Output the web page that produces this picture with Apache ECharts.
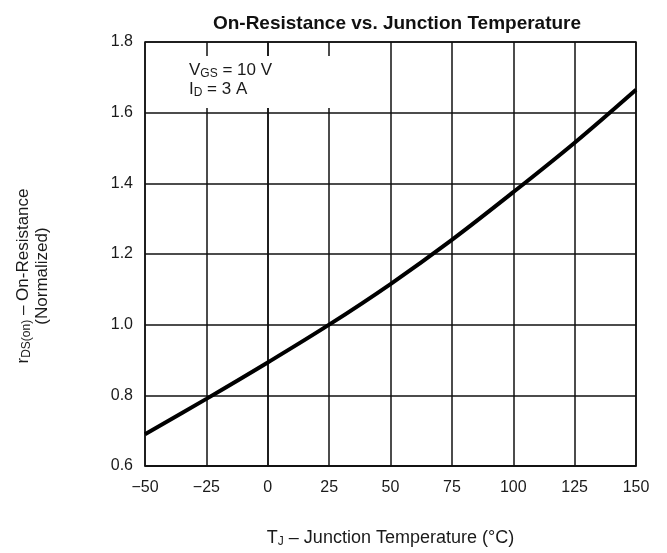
<!DOCTYPE html>
<html>
<head>
<meta charset="utf-8">
<script src="https://cdn.jsdelivr.net/npm/echarts@6/dist/echarts.min.js"></script>
<style>
  html, body { margin: 0; padding: 0; background: #fff; }
  #chart { width: 667px; height: 553px; }
</style>
</head>
<body>
<div id="chart"></div>
<script>
// junction temperature (°C)
const tempC = [-50, -25, 0, 25, 50, 75, 100, 125, 150];
// normalized on-resistance
const rdsNorm = [0.69, 0.79, 0.893, 1.0, 1.115, 1.24, 1.375, 1.515, 1.665];

const chart = echarts.init(document.getElementById('chart'));
const font = 'Liberation Sans, Arial, sans-serif';

chart.setOption({
  animation: false,
  backgroundColor: '#fff',
  title: {
    text: 'On-Resistance vs. Junction Temperature',
    left: 392, top: 9, textAlign: 'center',
    textStyle: { fontFamily: font, fontSize: 19, fontWeight: 'bold', color: '#111' }
  },
  grid: {
    left: 145, right: 31, top: 42, bottom: 85,
    show: true, borderColor: '#111', borderWidth: 1.5
  },
  xAxis: {
    type: 'value', min: -50, max: 150, interval: 25,
    axisLine: { show: true, lineStyle: { color: '#111', width: 1.5 } },
    axisTick: { show: false },
    splitLine: { show: true, lineStyle: { color: '#111', width: 1.5 } },
    axisLabel: {
      margin: 14, fontFamily: font, fontSize: 16, color: '#1a1a1a',
      formatter: v => String(v).replace('-', '\u2212')
    },
    name: 'T{sub|J} \u2013 Junction Temperature (\u00b0C)',
    nameLocation: 'middle', nameGap: 63,
    nameTextStyle: {
      fontFamily: font, fontSize: 18, color: '#1a1a1a',
      rich: { sub: { fontFamily: font, fontSize: 12, color: '#1a1a1a', padding: [7, 0, 0, 0] } }
    }
  },
  yAxis: {
    type: 'value', min: 0.6, max: 1.8, interval: 0.2,
    axisLine: { show: true, lineStyle: { color: '#111', width: 1.5 } },
    axisTick: { show: false },
    splitLine: { show: true, lineStyle: { color: '#111', width: 1.5 } },
    axisLabel: {
      margin: 12, fontFamily: font, fontSize: 16, color: '#1a1a1a',
      formatter: v => v.toFixed(1)
    }
  },
  graphic: [
    {
      type: 'rect', z: 10,
      shape: { x: 147, y: 56, width: 220, height: 52 },
      style: { fill: '#fff' }
    },
    {
      type: 'text', z: 11, left: 189, top: 61,
      style: {
        text: 'V{sub|GS} = 10 V\nI{sub|D} = 3 A',
        fontFamily: font, fontSize: 17, fill: '#1a1a1a', lineHeight: 19,
        rich: { sub: { fontFamily: font, fontSize: 12, fill: '#1a1a1a', padding: [7, 0, 0, 0] } }
      }
    },
    {
      type: 'text', z: 11, x: 33, y: 276, rotation: Math.PI / 2,
      style: {
        text: 'r{sub|DS(on)} \u2013 On-Resistance\n(Normalized)',
        fontFamily: font, fontSize: 17, fill: '#1a1a1a', lineHeight: 19,
        align: 'center', verticalAlign: 'middle',
        rich: { sub: { fontFamily: font, fontSize: 12, fill: '#1a1a1a', padding: [7, 0, 0, 0] } }
      }
    }
  ],
  series: [{
    type: 'line',
    data: tempC.map((t, i) => [t, rdsNorm[i]]),
    smooth: 0.35,
    showSymbol: false,
    lineStyle: { color: '#000', width: 4 }
  }]
});
</script>
</body>
</html>
